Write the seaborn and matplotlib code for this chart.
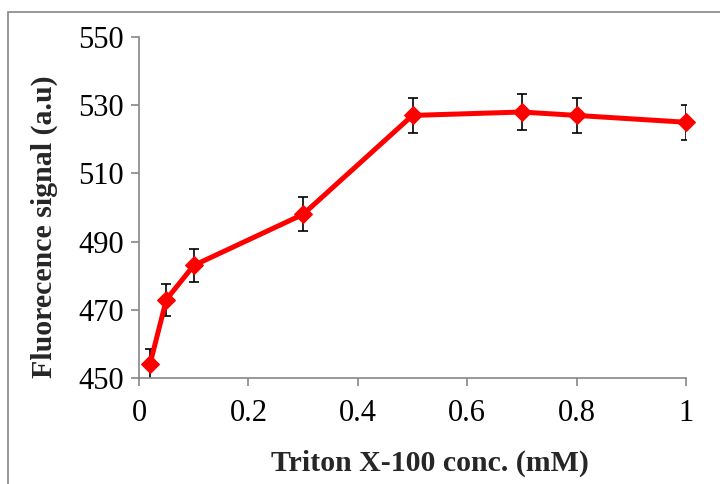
import matplotlib
matplotlib.use("Agg")
from matplotlib import pyplot as plt
from matplotlib.patches import Rectangle
import numpy as np
import pandas as pd
import seaborn as sns

# Triton X-100 concentration vs fluorescence signal
conc = [0.02, 0.05, 0.1, 0.3, 0.5, 0.7, 0.8, 1.0]
signal = [454, 473, 483, 498, 527, 528, 527, 525]
err = [4.5, 4.7, 4.8, 5, 5.2, 5.3, 5.2, 5.2]

df = pd.DataFrame({"conc": conc, "signal": signal, "err": err})

sns.set_style("white")
plt.rcParams['font.family'] = ['Liberation Serif', 'DejaVu Serif']

fig = plt.figure(figsize=(7.2, 4.84), dpi=100)
ax = fig.add_axes([139/720, 1 - 378/484, 547/720, 341/484])

grey = "#868686"

# outer chart frame
fig.patches.append(Rectangle((8/720, -0.1), 1.2, 1 - 12/484 + 0.1, transform=fig.transFigure,
                             fill=False, edgecolor=grey, linewidth=1.2))

ax.errorbar(df["conc"], df["signal"], yerr=df["err"], fmt="none", ecolor="black",
            elinewidth=1.2, capsize=3.8, capthick=1.2, zorder=2)
sns.lineplot(data=df, x="conc", y="signal", ax=ax, color="#FF0000", linewidth=3.6,
             marker="D", markersize=9.5, markeredgecolor="#FF0000", zorder=3, clip_on=False)

ax.set_xlim(0, 1)
ax.set_ylim(450, 550)
ax.set_xticks([0, 0.2, 0.4, 0.6, 0.8, 1])
ax.set_xticklabels(["0", "0.2", "0.4", "0.6", "0.8", "1"])
ax.set_yticks([450, 470, 490, 510, 530, 550])

for s in ["top", "right"]:
    ax.spines[s].set_visible(False)
for s in ["left", "bottom"]:
    ax.spines[s].set_color(grey)
    ax.spines[s].set_linewidth(1.2)

ax.tick_params(axis="both", direction="out", length=6, width=1.2, color=grey,
               labelsize=22, labelcolor="black", pad=5, bottom=True, left=True)
ax.tick_params(axis="x", pad=9)

ax.set_xlabel("Triton X-100 conc. (mM)", fontsize=21.5, fontweight="bold")
ax.set_ylabel("Fluorecence signal (a.u)", fontsize=21.5, fontweight="bold")
ax.xaxis.set_label_coords(0.532, -0.211)
ax.yaxis.set_label_coords(-0.148, 0.443)

fig.savefig("out.png", dpi=100)
